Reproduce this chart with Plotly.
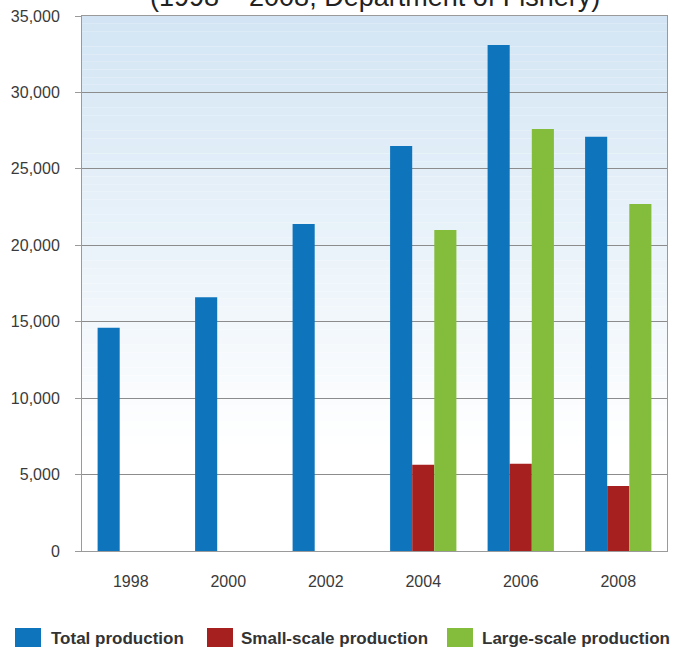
import plotly.graph_objects as go

years = ["1998", "2000", "2002", "2004", "2006", "2008"]
total_production = [14600, 16600, 21400, 26500, 33100, 27100]
small_scale = [None, None, None, 5650, 5700, 4250]
large_scale = [None, None, None, 21000, 27600, 22700]
series_names = ["Total production", "Small-scale production", "Large-scale production"]
colors = ["#0e74bc", "#a5201f", "#84bd3b"]
y_ticks = [0, 5000, 10000, 15000, 20000, 25000, 30000, 35000]
title_text = "(1998 \u2013 2008, Department of Fishery)"

W, H = 675, 652
ML, MR, MT, MB = 82, 8, 16, 101
PH = H - MT - MB
PW = W - ML - MR

tick_font = dict(family="Liberation Sans, Arial, sans-serif", size=16, color="#3a3a3a")
leg_font = dict(family="Liberation Sans, Arial, sans-serif", size=17, color="#333333")

fig = go.Figure()
for name, vals, col in zip(series_names, [total_production, small_scale, large_scale], colors):
    fig.add_trace(go.Bar(x=years, y=vals, name=name, marker=dict(color=col, line=dict(width=0)),
                         showlegend=False))

shapes = []
# vertical gradient background (light blue top -> white)
n = 70
top = (211, 229, 244)
for i in range(n):
    f0 = i / n
    f1 = (i + 1) / n
    t = min(1.0, f0 / 0.8)
    c = tuple(int(round(top[k] + (255 - top[k]) * t)) for k in range(3))
    shapes.append(dict(type="rect", xref="paper", yref="paper", x0=0, x1=1,
                       y0=1 - f1, y1=1 - f0, layer="below",
                       fillcolor="rgb(%d,%d,%d)" % c, line=dict(width=0)))

def px_x(px):
    return (px - ML) / PW

def px_y(py):
    return (H - MB - py) / PH

annotations = []
leg_items = [(15, 41, 49), (207, 233, 239), (447, 473, 480)]
for (sx0, sx1, tx), name, col in zip(leg_items, series_names, colors):
    shapes.append(dict(type="rect", xref="paper", yref="paper",
                       x0=px_x(sx0), x1=px_x(sx1), y0=px_y(647), y1=px_y(628),
                       fillcolor=col, line=dict(width=0), layer="above"))
    annotations.append(dict(text="<b>%s</b>" % name, xref="paper", yref="paper",
                            x=px_x(tx), y=px_y(638), xanchor="left", yanchor="middle",
                            showarrow=False, font=leg_font))

annotations.append(dict(text=title_text, xref="paper", yref="paper",
                        x=px_x(375), y=px_y(-3), xanchor="center", yanchor="middle",
                        showarrow=False,
                        font=dict(family="Liberation Sans, Arial, sans-serif", size=27, color="#222222")))

fig.update_layout(
    width=W, height=H,
    margin=dict(l=ML, r=MR, t=MT, b=MB),
    paper_bgcolor="white",
    plot_bgcolor="rgba(0,0,0,0)",
    barmode="group",
    bargap=0.32,
    bargroupgap=0,
    shapes=shapes,
    annotations=annotations,
    showlegend=False,
    xaxis=dict(type="category", showgrid=False, showline=True, linecolor="#9a9a9a", linewidth=1,
               mirror=True, ticks="", tickfont=tick_font, ticklabelstandoff=16),
    yaxis=dict(range=[0, 35000], tickvals=y_ticks, tickformat=",d", showgrid=True,
               gridcolor="#8c8c8c", gridwidth=1, showline=True, linecolor="#9a9a9a", linewidth=1,
               mirror=True, ticks="outside", ticklen=6, tickcolor="#9a9a9a",
               tickfont=tick_font, ticklabelstandoff=12, zeroline=False),
)

fig.write_html("out.html")
